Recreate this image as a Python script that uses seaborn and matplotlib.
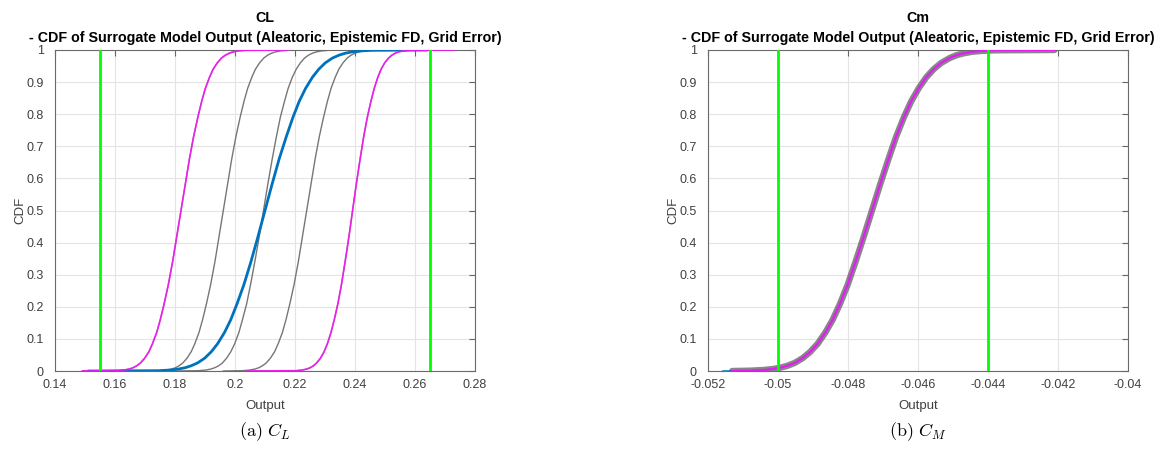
import matplotlib
matplotlib.use("Agg")
import matplotlib.pyplot as plt
import seaborn as sns

# ---------------------------------------------------------------- data
# cumulative probability levels shared by every CDF curve
LEVELS = [0, 0.001, 0.003, 0.006, 0.01, 0.016, 0.025, 0.04, 0.06, 0.085, 0.12, 0.16,
          0.21, 0.27, 0.34, 0.42, 0.5, 0.58, 0.66, 0.73, 0.79, 0.84, 0.88, 0.915,
          0.94, 0.96, 0.975, 0.984, 0.99, 0.994, 0.997, 0.999, 1]

# CL: output value reached at each probability level
CL_LOWER = [0.1490, 0.1607, 0.1630, 0.1647, 0.1660, 0.1672, 0.1685, 0.1699, 0.1713,
            0.1725, 0.1739, 0.1751, 0.1764, 0.1778, 0.1792, 0.1806, 0.1820, 0.1834,
            0.1848, 0.1862, 0.1876, 0.1889, 0.1901, 0.1915, 0.1927, 0.1941, 0.1955,
            0.1968, 0.1981, 0.1993, 0.2010, 0.2033, 0.2178]
CL_SAMPLE_1 = [0.1680, 0.1748, 0.1771, 0.1788, 0.1801, 0.1813, 0.1826, 0.1840, 0.1854,
               0.1866, 0.1880, 0.1892, 0.1905, 0.1919, 0.1933, 0.1947, 0.1961, 0.1975,
               0.1989, 0.2003, 0.2017, 0.2030, 0.2042, 0.2056, 0.2068, 0.2082, 0.2096,
               0.2109, 0.2122, 0.2134, 0.2151, 0.2174, 0.2250]
CL_SAMPLE_2 = [0.1800, 0.1879, 0.1903, 0.1919, 0.1932, 0.1945, 0.1958, 0.1972, 0.1986,
               0.1999, 0.2013, 0.2025, 0.2039, 0.2052, 0.2066, 0.2081, 0.2095, 0.2109,
               0.2124, 0.2138, 0.2151, 0.2165, 0.2177, 0.2191, 0.2204, 0.2218, 0.2232,
               0.2245, 0.2258, 0.2271, 0.2287, 0.2311, 0.2400]
CL_SAMPLE_3 = [0.1960, 0.2026, 0.2049, 0.2066, 0.2079, 0.2091, 0.2104, 0.2118, 0.2132,
               0.2144, 0.2158, 0.2170, 0.2183, 0.2197, 0.2211, 0.2225, 0.2239, 0.2253,
               0.2267, 0.2281, 0.2295, 0.2308, 0.2320, 0.2334, 0.2346, 0.2360, 0.2374,
               0.2387, 0.2400, 0.2412, 0.2429, 0.2452, 0.2520]
CL_UPPER = [0.2040, 0.2204, 0.2224, 0.2239, 0.2250, 0.2261, 0.2272, 0.2285, 0.2297,
            0.2308, 0.2320, 0.2331, 0.2343, 0.2355, 0.2367, 0.2380, 0.2392, 0.2404,
            0.2417, 0.2429, 0.2441, 0.2453, 0.2464, 0.2476, 0.2487, 0.2499, 0.2512,
            0.2523, 0.2534, 0.2545, 0.2560, 0.2581, 0.2733]
CL_COMBINED = [0.1510, 0.1745, 0.1784, 0.1811, 0.1833, 0.1853, 0.1875, 0.1899, 0.1921,
               0.1942, 0.1965, 0.1986, 0.2007, 0.2030, 0.2053, 0.2077, 0.2100, 0.2123,
               0.2147, 0.2171, 0.2193, 0.2214, 0.2235, 0.2258, 0.2279, 0.2301, 0.2325,
               0.2347, 0.2368, 0.2389, 0.2416, 0.2455, 0.2640]
CL_LIMITS = [0.155, 0.265]

# Cm: output value reached at each probability level
CM_ENVELOPE = [-0.05130, -0.05080, -0.05042, -0.05015, -0.04994, -0.04973, -0.04952,
               -0.04929, -0.04907, -0.04886, -0.04864, -0.04843, -0.04822, -0.04800,
               -0.04778, -0.04754, -0.04731, -0.04708, -0.04684, -0.04662, -0.04640,
               -0.04619, -0.04598, -0.04576, -0.04555, -0.04533, -0.04509, -0.04489,
               -0.04468, -0.04447, -0.04420, -0.04382, -0.04210]
CM_COMBINED = [-0.05158, -0.05080, -0.05042, -0.05015, -0.04994, -0.04973, -0.04952,
               -0.04929, -0.04907, -0.04886, -0.04864, -0.04843, -0.04822, -0.04800,
               -0.04778, -0.04754, -0.04731, -0.04708, -0.04684, -0.04662, -0.04640,
               -0.04619, -0.04598, -0.04576, -0.04555, -0.04533, -0.04509, -0.04489,
               -0.04468, -0.04447, -0.04420, -0.04382, -0.04233]
CM_LIMITS = [-0.050, -0.044]

CL_XTICKS = [0.14, 0.16, 0.18, 0.20, 0.22, 0.24, 0.26, 0.28]
CL_XLABELS = ["0.14", "0.16", "0.18", "0.2", "0.22", "0.24", "0.26", "0.28"]
CM_XTICKS = [-0.052, -0.050, -0.048, -0.046, -0.044, -0.042, -0.040]
CM_XLABELS = ["-0.052", "-0.05", "-0.048", "-0.046", "-0.044", "-0.042", "-0.04"]
Y_TICKS = [0, 0.1, 0.2, 0.3, 0.4, 0.5, 0.6, 0.7, 0.8, 0.9, 1]
Y_LABELS = ["0", "0.1", "0.2", "0.3", "0.4", "0.5", "0.6", "0.7", "0.8", "0.9", "1"]

TITLE_SUFFIX = "- CDF of Surrogate Model Output (Aleatoric, Epistemic FD, Grid Error)"

# ---------------------------------------------------------------- style
sns.set_theme(style="white")
plt.rcParams["font.family"] = ["Liberation Sans", "DejaVu Sans"]
plt.rcParams["mathtext.fontset"] = "cm"

GRAY = "#767676"
MAGENTA = "#ff10ff"
BLUE = "#0072bd"
GREEN = "#00ff00"
TEXT = "#404040"


def curve(ax, xs, color, lw, alpha=1.0, z=2):
    sns.lineplot(x=xs, y=LEVELS, ax=ax, color=color, linewidth=lw, alpha=alpha,
                 estimator=None, sort=False, legend=False, zorder=z)


def dress(ax, xlim, xticks, xlabels, name):
    ax.set_xlim(xlim)
    ax.set_ylim(0, 1)
    ax.set_xticks(xticks)
    ax.set_xticklabels(xlabels)
    ax.set_yticks(Y_TICKS)
    ax.set_yticklabels(Y_LABELS)
    ax.grid(True, color="#e4e4e4", linewidth=0.8)
    ax.set_axisbelow(True)
    ax.tick_params(direction="in", top=True, right=True, length=4, width=0.8,
                   color="#666666", labelcolor=TEXT, labelsize=9)
    ax.tick_params(axis="x", pad=6)
    ax.tick_params(axis="y", pad=8)
    for sp in ax.spines.values():
        sp.set_visible(True)
        sp.set_color("#6a6a6a")
        sp.set_linewidth(0.8)
    ax.set_xlabel("Output", fontsize=9.5, color=TEXT, labelpad=6)
    ax.set_ylabel("CDF", fontsize=9.5, color=TEXT, labelpad=0)
    ax.set_title(name + "\n" + TITLE_SUFFIX, fontsize=10.3, fontweight="bold",
                 color="black", pad=6, linespacing=1.5)


fig = plt.figure(figsize=(11.63, 4.59), dpi=100)
ax1 = fig.add_axes([55 / 1163, 88 / 459, 420 / 1163, 321 / 459])
ax2 = fig.add_axes([707.7 / 1163, 88 / 459, 420.3 / 1163, 321 / 459])

# CL panel: sample CDFs, combined CDF, bounding envelopes and limits
for xs in (CL_LOWER, CL_SAMPLE_1, CL_SAMPLE_2, CL_SAMPLE_3, CL_UPPER):
    curve(ax1, xs, GRAY, 1.0, z=2)
curve(ax1, CL_COMBINED, BLUE, 2.0, z=3)
for xs in (CL_LOWER, CL_UPPER):
    curve(ax1, xs, MAGENTA, 1.2, alpha=0.85, z=4)
for xv in CL_LIMITS:
    ax1.axvline(xv, color=GREEN, linewidth=2.0, zorder=5)
dress(ax1, (0.14, 0.28), CL_XTICKS, CL_XLABELS, "CL")

# Cm panel: the sample CDFs collapse onto one band
curve(ax2, CM_ENVELOPE, "#555555", 4.6, alpha=0.7, z=2)
curve(ax2, CM_COMBINED, BLUE, 1.0, z=3)
curve(ax2, CM_ENVELOPE, MAGENTA, 1.5, alpha=0.9, z=4)
for xv in CM_LIMITS:
    ax2.axvline(xv, color=GREEN, linewidth=2.0, zorder=5)
dress(ax2, (-0.052, -0.040), CM_XTICKS, CM_XLABELS, "Cm")

# sub-figure captions
fig.text(265 / 1163, 1 - 432 / 459, r"$\mathrm{(a)}\ C_L$", ha="center", va="center",
         fontsize=13, color="black")
fig.text(918 / 1163, 1 - 432 / 459, r"$\mathrm{(b)}\ C_M$", ha="center", va="center",
         fontsize=13, color="black")

fig.savefig("out.png", dpi=100)
